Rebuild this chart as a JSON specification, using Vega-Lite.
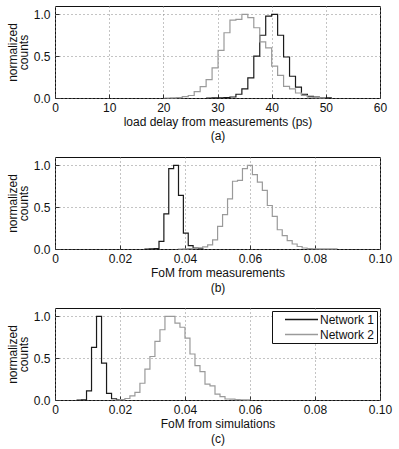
{
  "$schema": "https://vega.github.io/schema/vega-lite/v6.json",
  "padding": {"left": 5, "top": 5, "right": 5, "bottom": 5},
  "bounds": "flush",
  "spacing": 59,
  "datasets": {
    "a": [
      {"net": "Network 1", "x": 27.9, "y": 0},
      {"net": "Network 1", "x": 29.0, "y": 0.002},
      {"net": "Network 1", "x": 30.1, "y": 0.003},
      {"net": "Network 1", "x": 31.2, "y": 0.005},
      {"net": "Network 1", "x": 32.3, "y": 0.012},
      {"net": "Network 1", "x": 33.4, "y": 0.045},
      {"net": "Network 1", "x": 34.5, "y": 0.11},
      {"net": "Network 1", "x": 35.6, "y": 0.24},
      {"net": "Network 1", "x": 36.7, "y": 0.5},
      {"net": "Network 1", "x": 37.8, "y": 0.75},
      {"net": "Network 1", "x": 38.9, "y": 0.98},
      {"net": "Network 1", "x": 40.0, "y": 1.0},
      {"net": "Network 1", "x": 41.1, "y": 0.75},
      {"net": "Network 1", "x": 42.2, "y": 0.49},
      {"net": "Network 1", "x": 43.3, "y": 0.26},
      {"net": "Network 1", "x": 44.4, "y": 0.13},
      {"net": "Network 1", "x": 45.5, "y": 0.045},
      {"net": "Network 1", "x": 46.6, "y": 0.02},
      {"net": "Network 1", "x": 47.7, "y": 0.01},
      {"net": "Network 1", "x": 48.8, "y": 0.003},
      {"net": "Network 1", "x": 49.9, "y": 0.001},
      {"net": "Network 1", "x": 51.0, "y": 0},
      {"net": "Network 2", "x": 20.2, "y": 0},
      {"net": "Network 2", "x": 21.3, "y": 0.002},
      {"net": "Network 2", "x": 22.4, "y": 0.005},
      {"net": "Network 2", "x": 23.5, "y": 0.016},
      {"net": "Network 2", "x": 24.6, "y": 0.03},
      {"net": "Network 2", "x": 25.7, "y": 0.076},
      {"net": "Network 2", "x": 26.8, "y": 0.136},
      {"net": "Network 2", "x": 27.9, "y": 0.22},
      {"net": "Network 2", "x": 29.0, "y": 0.36},
      {"net": "Network 2", "x": 30.1, "y": 0.57},
      {"net": "Network 2", "x": 31.2, "y": 0.78},
      {"net": "Network 2", "x": 32.3, "y": 0.93},
      {"net": "Network 2", "x": 33.4, "y": 0.94},
      {"net": "Network 2", "x": 34.5, "y": 1.0},
      {"net": "Network 2", "x": 35.6, "y": 0.96},
      {"net": "Network 2", "x": 36.7, "y": 0.84},
      {"net": "Network 2", "x": 37.8, "y": 0.67},
      {"net": "Network 2", "x": 38.9, "y": 0.6},
      {"net": "Network 2", "x": 40.0, "y": 0.38},
      {"net": "Network 2", "x": 41.1, "y": 0.27},
      {"net": "Network 2", "x": 42.2, "y": 0.14},
      {"net": "Network 2", "x": 43.3, "y": 0.11},
      {"net": "Network 2", "x": 44.4, "y": 0.06},
      {"net": "Network 2", "x": 45.5, "y": 0.03},
      {"net": "Network 2", "x": 46.6, "y": 0.01},
      {"net": "Network 2", "x": 47.7, "y": 0.005},
      {"net": "Network 2", "x": 48.8, "y": 0.002},
      {"net": "Network 2", "x": 49.9, "y": 0}
    ],
    "b": [
      {"net": "Network 1", "x": 0.0275, "y": 0},
      {"net": "Network 1", "x": 0.0290, "y": 0.002},
      {"net": "Network 1", "x": 0.0305, "y": 0.005},
      {"net": "Network 1", "x": 0.0320, "y": 0.09},
      {"net": "Network 1", "x": 0.0335, "y": 0.42},
      {"net": "Network 1", "x": 0.0350, "y": 0.96},
      {"net": "Network 1", "x": 0.0365, "y": 1.0},
      {"net": "Network 1", "x": 0.0380, "y": 0.64},
      {"net": "Network 1", "x": 0.0395, "y": 0.19},
      {"net": "Network 1", "x": 0.0410, "y": 0.04},
      {"net": "Network 1", "x": 0.0425, "y": 0.01},
      {"net": "Network 1", "x": 0.0440, "y": 0.002},
      {"net": "Network 1", "x": 0.0455, "y": 0},
      {"net": "Network 2", "x": 0.03777, "y": 0},
      {"net": "Network 2", "x": 0.0393, "y": 0.002},
      {"net": "Network 2", "x": 0.04085, "y": 0.004},
      {"net": "Network 2", "x": 0.04238, "y": 0.008},
      {"net": "Network 2", "x": 0.04391, "y": 0.015},
      {"net": "Network 2", "x": 0.04544, "y": 0.025},
      {"net": "Network 2", "x": 0.04697, "y": 0.05},
      {"net": "Network 2", "x": 0.0485, "y": 0.11},
      {"net": "Network 2", "x": 0.05003, "y": 0.27},
      {"net": "Network 2", "x": 0.05156, "y": 0.41},
      {"net": "Network 2", "x": 0.05309, "y": 0.6},
      {"net": "Network 2", "x": 0.05462, "y": 0.81},
      {"net": "Network 2", "x": 0.05615, "y": 0.82},
      {"net": "Network 2", "x": 0.05768, "y": 0.96},
      {"net": "Network 2", "x": 0.05921, "y": 1.0},
      {"net": "Network 2", "x": 0.06074, "y": 0.89},
      {"net": "Network 2", "x": 0.06227, "y": 0.8},
      {"net": "Network 2", "x": 0.0638, "y": 0.7},
      {"net": "Network 2", "x": 0.06533, "y": 0.52},
      {"net": "Network 2", "x": 0.06686, "y": 0.39},
      {"net": "Network 2", "x": 0.06839, "y": 0.23},
      {"net": "Network 2", "x": 0.06992, "y": 0.16},
      {"net": "Network 2", "x": 0.07145, "y": 0.1},
      {"net": "Network 2", "x": 0.07298, "y": 0.06},
      {"net": "Network 2", "x": 0.07451, "y": 0.03},
      {"net": "Network 2", "x": 0.07604, "y": 0.012},
      {"net": "Network 2", "x": 0.07757, "y": 0.005},
      {"net": "Network 2", "x": 0.0791, "y": 0.003},
      {"net": "Network 2", "x": 0.08063, "y": 0.002},
      {"net": "Network 2", "x": 0.08216, "y": 0.001},
      {"net": "Network 2", "x": 0.08369, "y": 0.002},
      {"net": "Network 2", "x": 0.08522, "y": 0.001},
      {"net": "Network 2", "x": 0.08675, "y": 0}
    ],
    "c": [
      {"net": "Network 1", "x": 0.00662, "y": 0},
      {"net": "Network 1", "x": 0.00816, "y": 0.003},
      {"net": "Network 1", "x": 0.0097, "y": 0.11},
      {"net": "Network 1", "x": 0.01124, "y": 0.63},
      {"net": "Network 1", "x": 0.01278, "y": 1.0},
      {"net": "Network 1", "x": 0.01432, "y": 0.44},
      {"net": "Network 1", "x": 0.01586, "y": 0.08},
      {"net": "Network 1", "x": 0.0174, "y": 0.015},
      {"net": "Network 1", "x": 0.01894, "y": 0.002},
      {"net": "Network 1", "x": 0.02048, "y": 0},
      {"net": "Network 2", "x": 0.01843, "y": 0},
      {"net": "Network 2", "x": 0.01997, "y": 0.005},
      {"net": "Network 2", "x": 0.02151, "y": 0.018},
      {"net": "Network 2", "x": 0.02305, "y": 0.05},
      {"net": "Network 2", "x": 0.02459, "y": 0.09},
      {"net": "Network 2", "x": 0.02613, "y": 0.2},
      {"net": "Network 2", "x": 0.02767, "y": 0.37},
      {"net": "Network 2", "x": 0.02921, "y": 0.52},
      {"net": "Network 2", "x": 0.03075, "y": 0.7},
      {"net": "Network 2", "x": 0.03229, "y": 0.84},
      {"net": "Network 2", "x": 0.03383, "y": 1.0},
      {"net": "Network 2", "x": 0.03537, "y": 1.0},
      {"net": "Network 2", "x": 0.03691, "y": 0.92},
      {"net": "Network 2", "x": 0.03845, "y": 0.87},
      {"net": "Network 2", "x": 0.03999, "y": 0.74},
      {"net": "Network 2", "x": 0.04153, "y": 0.55},
      {"net": "Network 2", "x": 0.04307, "y": 0.41},
      {"net": "Network 2", "x": 0.04461, "y": 0.34},
      {"net": "Network 2", "x": 0.04615, "y": 0.19},
      {"net": "Network 2", "x": 0.04769, "y": 0.17},
      {"net": "Network 2", "x": 0.04923, "y": 0.07},
      {"net": "Network 2", "x": 0.05077, "y": 0.04},
      {"net": "Network 2", "x": 0.05231, "y": 0.012},
      {"net": "Network 2", "x": 0.05385, "y": 0.01},
      {"net": "Network 2", "x": 0.05539, "y": 0.005},
      {"net": "Network 2", "x": 0.05693, "y": 0.003},
      {"net": "Network 2", "x": 0.05847, "y": 0.001},
      {"net": "Network 2", "x": 0.06001, "y": 0}
    ]
  },
  "resolve": {"legend": {"color": "independent"}},
  "vconcat": [
    {
      "width": 325, "height": 92,
      "data": {"name": "a"},
      "mark": {"type": "line", "interpolate": "step-after", "strokeWidth": 1.2},
      "encoding": {
        "x": {"field": "x", "type": "quantitative", "scale": {"domain": [0, 60], "nice": false},
              "axis": {"values": [0, 10, 20, 30, 40, 50, 60], "format": "d", "titlePadding": 3, "titleLineHeight": 14, "title": ["load delay from measurements (ps)", "(a)"]}},
        "y": {"field": "y", "type": "quantitative", "scale": {"domain": [0, 1.1], "nice": false},
              "axis": {"values": [0, 0.5, 1.0], "format": ".1f", "title": ["normalized", "counts"]}},
        "color": {"field": "net", "type": "nominal", "scale": {"domain": ["Network 1", "Network 2"], "range": ["#1a1a1a", "#9a9a9a"]}, "legend": null}
      }
    },
    {
      "width": 325, "height": 92,
      "data": {"name": "b"},
      "mark": {"type": "line", "interpolate": "step-after", "strokeWidth": 1.2},
      "encoding": {
        "x": {"field": "x", "type": "quantitative", "scale": {"domain": [0, 0.1], "nice": false},
              "axis": {"values": [0, 0.02, 0.04, 0.06, 0.08, 0.1], "labelExpr": "datum.value == 0 ? '0' : format(datum.value, '.2f')", "titlePadding": 3, "title": ["FoM from measurements", "(b)"]}},
        "y": {"field": "y", "type": "quantitative", "scale": {"domain": [0, 1.1], "nice": false},
              "axis": {"values": [0, 0.5, 1.0], "format": ".1f", "title": ["normalized", "counts"]}},
        "color": {"field": "net", "type": "nominal", "scale": {"domain": ["Network 1", "Network 2"], "range": ["#1a1a1a", "#9a9a9a"]}, "legend": null}
      }
    },
    {
      "width": 325, "height": 92,
      "data": {"name": "c"},
      "mark": {"type": "line", "interpolate": "step-after", "strokeWidth": 1.2},
      "encoding": {
        "x": {"field": "x", "type": "quantitative", "scale": {"domain": [0, 0.1], "nice": false},
              "axis": {"values": [0, 0.02, 0.04, 0.06, 0.08, 0.1], "labelExpr": "datum.value == 0 ? '0' : format(datum.value, '.2f')", "titlePadding": 3, "title": ["FoM from simulations", "(c)"]}},
        "y": {"field": "y", "type": "quantitative", "scale": {"domain": [0, 1.1], "nice": false},
              "axis": {"values": [0, 0.5, 1.0], "format": ".1f", "title": ["normalized", "counts"]}},
        "color": {"field": "net", "type": "nominal", "scale": {"domain": ["Network 1", "Network 2"], "range": ["#1a1a1a", "#9a9a9a"]},
                  "legend": {"orient": "top-right", "title": null, "offset": 3, "padding": 2, "strokeColor": "#111", "fillColor": "white",
                             "symbolType": "M-3,0H3", "symbolSize": 121, "symbolStrokeWidth": 1.5, "symbolOffset": 21,
                             "labelFontSize": 12, "labelOffset": 12, "rowPadding": 2, "labelColor": "#111"}}
      }
    }
  ],
  "config": {
    "font": "Liberation Sans",
    "view": {"stroke": "#111", "strokeWidth": 1},
    "axis": {"domain": false, "ticks": true, "tickSize": -4, "tickColor": "#333", "grid": true, "gridColor": "#888", "gridDash": [1, 3], "gridWidth": 1,
             "labelFontSize": 12, "labelColor": "#111", "labelFlush": false, "labelOverlap": false, "labelPadding": 8,
             "titleFontSize": 12, "titleFontWeight": "normal", "titleColor": "#111"},
    "axisX": {"titleLineHeight": 15, "titlePadding": 2},
    "axisY": {"titleLineHeight": 11, "titlePadding": 3, "labelPadding": 9}
  }
}
